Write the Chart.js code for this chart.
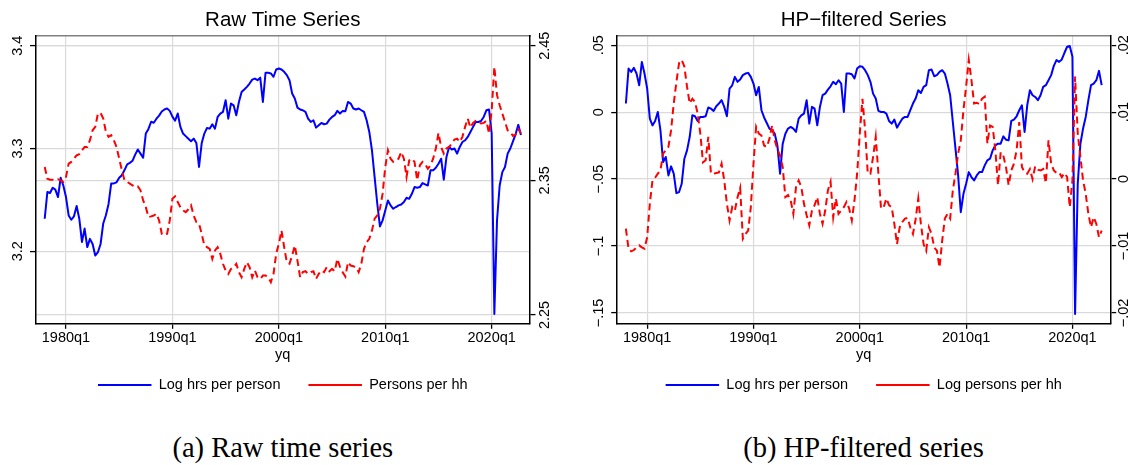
<!DOCTYPE html>
<html><head><meta charset="utf-8">
<script src="https://cdn.jsdelivr.net/npm/chart.js@4.4.1/dist/chart.umd.min.js"></script>
<style>
html,body{margin:0;padding:0;background:#fff;overflow:hidden;width:1133px;height:465px;position:relative;}
#c1{position:absolute;left:0;top:0;}
#c2{position:absolute;left:581px;top:0;}
.cap{position:absolute;top:434px;font-family:'Liberation Serif','Times New Roman',serif;font-size:28.5px;line-height:1;white-space:nowrap;color:#000;transform:translateX(-50%);}
</style></head><body>
<canvas id="c1" width="566" height="410"></canvas>
<canvas id="c2" width="552" height="410"></canvas>
<div class="cap" style="left:282.8px">(a) Raw time series</div>
<div class="cap" style="left:863.5px">(b) HP-filtered series</div>
<script>
// ---- categories: quarters 1978q1 .. 2022q4 (Stata yq code of 1978q1 = 72)
const quarters = [];
for (let y = 1978; y <= 2022; y++) for (let q = 1; q <= 4; q++) quarters.push(y + 'q' + q);
const firstYq = 72;
const xTickValues = [80, 120, 160, 200, 240];
const xTickLabels = ['1980q1', '1990q1', '2000q1', '2010q1', '2020q1'];

// ---- series values
const rawHours = [3.2316,3.2576,3.2566,3.2618,3.2600,3.2527,3.2715,3.2640,3.2527,3.2348,
3.2306,3.2340,3.2440,3.2316,3.2090,3.2220,3.2040,3.2120,3.2070,3.1958,
3.1990,3.2070,3.2270,3.2350,3.2460,3.2660,3.2660,3.2670,3.2715,3.2740,
3.2790,3.2846,3.2860,3.2880,3.2940,3.2990,3.2950,3.2910,3.3145,3.3190,
3.3260,3.3250,3.3290,3.3320,3.3360,3.3380,3.3390,3.3366,3.3310,3.3270,
3.3340,3.3210,3.3145,3.3120,3.3095,3.3070,3.3096,3.3054,3.2820,3.3050,
3.3145,3.3200,3.3193,3.3236,3.3193,3.3307,3.3340,3.3356,3.3470,3.3290,
3.3437,3.3420,3.3324,3.3453,3.3550,3.3574,3.3600,3.3632,3.3670,3.3680,
3.3665,3.3690,3.3453,3.3737,3.3737,3.3730,3.3698,3.3769,3.3779,3.3769,
3.3746,3.3714,3.3665,3.3535,3.3486,3.3398,3.3379,3.3372,3.3356,3.3290,
3.3258,3.3275,3.3203,3.3226,3.3249,3.3236,3.3242,3.3281,3.3307,3.3324,
3.3366,3.3340,3.3366,3.3363,3.3453,3.3437,3.3389,3.3379,3.3389,3.3372,
3.3356,3.3275,3.3161,3.2982,3.2722,3.2462,3.2241,3.2300,3.2397,3.2494,
3.2446,3.2413,3.2430,3.2446,3.2455,3.2478,3.2520,3.2510,3.2559,3.2624,
3.2618,3.2624,3.2663,3.2650,3.2640,3.2787,3.2787,3.2813,3.2852,3.2900,
3.2696,3.2917,3.3015,3.2990,3.3000,3.2950,3.3015,3.3063,3.3080,3.3112,
3.3160,3.3210,3.3258,3.3258,3.3268,3.3307,3.3372,3.3380,3.3145,3.1389,
3.2299,3.2640,3.2770,3.2820,3.2950,3.3000,3.3070,3.3140,3.3230,3.3130];

const rawPersons = [2.3599,2.3512,2.3505,2.3505,2.3500,2.3507,2.3500,2.3488,2.3525,2.3624,
2.3637,2.3661,2.3686,2.3694,2.3723,2.3748,2.3748,2.3798,2.3872,2.3897,
2.3996,2.4001,2.3959,2.3860,2.3823,2.3835,2.3798,2.3748,2.3661,2.3574,
2.3500,2.3488,2.3475,2.3463,2.3450,2.3455,2.3426,2.3351,2.3301,2.3227,
2.3232,2.3239,2.3252,2.3202,2.3103,2.3091,2.3103,2.3202,2.3363,2.3381,
2.3339,2.3301,2.3277,2.3264,2.3285,2.3314,2.3239,2.3190,2.3177,2.3103,
2.3016,2.3004,2.2991,2.2917,2.2979,2.3004,2.2954,2.2880,2.2830,2.2805,
2.2842,2.2855,2.2880,2.2818,2.2780,2.2842,2.2892,2.2855,2.2780,2.2830,
2.2780,2.2768,2.2793,2.2793,2.2780,2.2743,2.2805,2.2954,2.3029,2.3128,
2.3004,2.2892,2.2880,2.2942,2.3016,2.2904,2.2780,2.2818,2.2825,2.2805,
2.2818,2.2825,2.2768,2.2805,2.2830,2.2818,2.2855,2.2825,2.2842,2.2825,
2.2917,2.2855,2.2818,2.2785,2.2892,2.2867,2.2862,2.2855,2.2818,2.2880,
2.2991,2.3041,2.3066,2.3128,2.3215,2.3239,2.3289,2.3401,2.3599,2.3723,
2.3661,2.3637,2.3644,2.3661,2.3711,2.3661,2.3525,2.3649,2.3661,2.3637,
2.3500,2.3612,2.3637,2.3620,2.3587,2.3612,2.3661,2.3736,2.3852,2.3748,
2.3698,2.3736,2.3748,2.3773,2.3803,2.3810,2.3785,2.3823,2.3897,2.3959,
2.3892,2.3927,2.3942,2.3934,2.3922,2.3927,2.3942,2.3847,2.4021,2.4344,
2.4133,2.4058,2.3996,2.3934,2.3872,2.3860,2.3830,2.3840,2.3880,2.3850];

const hpHours = [0.0064,0.0325,0.0300,0.0330,0.0288,0.0200,0.0375,0.0288,0.0176,-0.0049,
-0.0099,-0.0066,0.0001,-0.0136,-0.0373,-0.0335,-0.0473,-0.0405,-0.0460,-0.0605,
-0.0597,-0.0535,-0.0348,-0.0286,-0.0186,-0.0024,-0.0031,-0.0066,-0.0036,-0.0036,
-0.0031,0.0034,0.0026,0.0009,0.0044,0.0064,0.0089,0.0039,-0.0031,0.0176,
0.0200,0.0263,0.0226,0.0243,0.0276,0.0288,0.0293,0.0263,0.0213,0.0126,
0.0188,0.0014,-0.0040,-0.0081,-0.0123,-0.0136,-0.0161,-0.0249,-0.0460,-0.0236,
-0.0161,-0.0123,-0.0111,-0.0123,-0.0148,-0.0049,-0.0024,-0.0011,0.0089,-0.0086,
0.0039,0.0026,-0.0099,0.0039,0.0126,0.0138,0.0168,0.0193,0.0226,0.0208,
0.0238,0.0213,0.0001,0.0288,0.0288,0.0283,0.0251,0.0325,0.0343,0.0338,
0.0313,0.0276,0.0226,0.0138,0.0101,0.0009,0.0001,0.0001,-0.0011,-0.0066,
-0.0086,-0.0056,-0.0116,-0.0081,-0.0049,-0.0036,-0.0036,0.0014,0.0064,0.0101,
0.0163,0.0143,0.0188,0.0201,0.0313,0.0318,0.0268,0.0276,0.0300,0.0313,
0.0288,0.0213,0.0126,-0.0074,-0.0273,-0.0473,-0.0747,-0.0610,-0.0535,-0.0448,
-0.0485,-0.0510,-0.0473,-0.0448,-0.0448,-0.0398,-0.0360,-0.0348,-0.0286,-0.0248,
-0.0236,-0.0236,-0.0181,-0.0206,-0.0211,-0.0066,-0.0056,-0.0031,0.0014,0.0051,
-0.0148,0.0051,0.0163,0.0126,0.0113,0.0089,0.0126,0.0188,0.0201,0.0238,
0.0276,0.0345,0.0388,0.0375,0.0393,0.0443,0.0488,0.0493,0.0413,-0.1507,
-0.0535,-0.0236,-0.0123,-0.0036,0.0089,0.0201,0.0213,0.0238,0.0308,0.0201];

const hpPersons = [-0.0074,-0.0104,-0.0108,-0.0106,-0.0102,-0.0099,-0.0102,-0.0104,-0.0087,-0.0037,
-0.0002,0.0002,0.0008,0.0013,0.0038,0.0043,0.0048,0.0073,0.0113,0.0145,
0.0173,0.0178,0.0168,0.0138,0.0113,0.0120,0.0115,0.0098,0.0068,0.0025,
0.0028,0.0063,0.0008,0.0008,0.0009,0.0010,0.0023,-0.0002,-0.0037,-0.0062,
-0.0042,-0.0047,-0.0027,-0.0013,-0.0089,-0.0082,-0.0077,-0.0042,0.0023,0.0078,
0.0068,0.0065,0.0050,0.0048,0.0060,0.0080,0.0058,0.0045,0.0035,0.0018,
-0.0027,-0.0024,-0.0032,-0.0052,-0.0012,-0.0002,-0.0012,-0.0037,-0.0054,-0.0069,
-0.0047,-0.0039,-0.0027,-0.0052,-0.0067,-0.0047,-0.0017,-0.0004,-0.0057,-0.0029,
-0.0052,-0.0047,-0.0042,-0.0034,-0.0044,-0.0062,-0.0032,0.0008,0.0068,0.0120,
0.0073,0.0008,0.0008,0.0033,0.0063,0.0008,-0.0044,-0.0042,-0.0029,-0.0039,
-0.0042,-0.0067,-0.0097,-0.0072,-0.0064,-0.0059,-0.0058,-0.0072,-0.0082,-0.0060,
-0.0029,-0.0067,-0.0097,-0.0107,-0.0072,-0.0082,-0.0102,-0.0107,-0.0132,-0.0092,
-0.0059,-0.0052,-0.0059,-0.0017,0.0008,0.0038,0.0058,0.0103,0.0138,0.0178,
0.0148,0.0113,0.0114,0.0112,0.0120,0.0123,0.0053,0.0080,0.0078,0.0043,
-0.0009,0.0040,0.0035,0.0018,-0.0009,0.0013,0.0023,0.0043,0.0085,0.0018,
0.0010,0.0008,0.0015,0.0000,0.0019,0.0014,0.0013,0.0015,-0.0006,0.0058,
0.0023,0.0013,0.0009,0.0010,0.0003,0.0009,0.0003,-0.0042,-0.0002,0.0153,
0.0068,0.0033,-0.0002,-0.0022,-0.0052,-0.0072,-0.0057,-0.0067,-0.0087,-0.0077];

// ---- tick labels
const rawLeftTicks = [3.2, 3.3, 3.4];
const rawLeftLabels = ['3.2', '3.3', '3.4'];
const rawRightTicks = [2.25, 2.35, 2.45];
const rawRightLabels = ['2.25', '2.35', '2.45'];
const hpLeftTicks = [-0.15, -0.1, -0.05, 0, 0.05];
const hpLeftLabels = ['\u2212.15', '\u2212.1', '\u2212.05', '0', '.05'];
const hpRightTicks = [-0.02, -0.01, 0, 0.01, 0.02];
const hpRightLabels = ['\u2212.02', '\u2212.01', '0', '.01', '.02'];

// ---- styling / layout
Chart.defaults.font.family = "'Liberation Sans', Arial, sans-serif";
Chart.defaults.color = '#000';
const GRID = '#dadada';
const FS = 14.5;
const X_MIN = 68.54, X_MAX = 254.4;

const toPoints = arr => arr.map((v, i) => ({x: firstYq + i, y: v}));

function yAxis(pos, min, max, ticks, labels, pad, drawGrid, width) {
  return {
    type: 'linear', position: pos, min: min, max: max,
    afterBuildTicks: a => { a.ticks = ticks.map(v => ({value: v})); },
    afterFit: a => { a.width = width; },
    ticks: { autoSkip: false, minRotation: 90, maxRotation: 90, crossAlign: 'center',
      padding: pad, color: '#000', font: {size: FS}, callback: (v, i) => labels[i] },
    grid: { display: true, drawOnChartArea: drawGrid, color: GRID, lineWidth: 1.2,
      drawTicks: true, tickLength: 5.5, tickColor: '#000', tickWidth: 1.3 },
    border: { display: true, color: '#000', width: 1.5 }
  };
}

function makeChart(id, title, hours, persons, labelA, labelB, yL, yR) {
  return new Chart(document.getElementById(id), {
    type: 'line',
    data: {
      datasets: [
        { label: labelA, data: toPoints(hours), yAxisID: 'y', borderColor: '#0000ff',
          backgroundColor: '#0000ff', borderWidth: 2, pointRadius: 0, tension: 0,
          borderJoinStyle: 'round', order: 1 },
        { label: labelB, data: toPoints(persons), yAxisID: 'y2', borderColor: '#ff0000',
          backgroundColor: '#ff0000', borderWidth: 2, pointRadius: 0, tension: 0,
          borderDash: [7, 4.3], order: 0 }
      ]
    },
    options: {
      responsive: false, animation: false, devicePixelRatio: 1,
      layout: { padding: { top: 0, left: 0, right: 0, bottom: 7.75 } },
      scales: {
        x: {
          type: 'linear', position: 'bottom', min: X_MIN, max: X_MAX,
          afterBuildTicks: a => { a.ticks = xTickValues.map(v => ({value: v})); },
          afterFit: a => { a.height = 26.45; },
          ticks: { autoSkip: false, minRotation: 0, maxRotation: 0, padding: 0.5,
            color: '#000', font: {size: FS}, callback: (v, i) => xTickLabels[i] },
          grid: { display: true, color: GRID, lineWidth: 1.2, drawTicks: true,
            tickLength: 5.5, tickColor: '#000', tickWidth: 1.3 },
          border: { display: true, color: '#000', width: 1.5 },
          title: { display: true, text: 'yq', color: '#000', font: {size: FS},
            padding: { top: 0, bottom: -13.95 } }
        },
        xTop: {
          type: 'linear', position: 'top', min: X_MIN, max: X_MAX,
          afterFit: a => { a.height = 0; },
          ticks: { display: false },
          grid: { display: false, drawTicks: false },
          border: { display: true, color: '#808080', width: 1.5 }
        },
        y: yL,
        y2: yR
      },
      plugins: {
        title: { display: true, text: title, fullSize: false, color: '#000',
          font: { size: 20.5, weight: 'normal' }, padding: { top: 8.4, bottom: 2.9 } },
        legend: { display: true, position: 'bottom', fullSize: false,
          labels: { usePointStyle: true, pointStyle: 'line', pointStyleWidth: 53.5,
            color: '#000', font: { size: FS }, padding: 28,
            sort: (a, b) => a.datasetIndex - b.datasetIndex } },
        tooltip: { enabled: false }
      }
    }
  });
}

makeChart('c1', 'Raw Time Series', rawHours, rawPersons, 'Log hrs per person', 'Persons per hh',
  yAxis('left', 3.1298, 3.4096, rawLeftTicks, rawLeftLabels, 2.42, true, 35.5),
  yAxis('right', 2.2438, 2.4573, rawRightTicks, rawRightLabels, -4.9, true, 36));

makeChart('c2', 'HP\u2212filtered Series', hpHours, hpPersons, 'Log hrs per person', 'Log persons per hh',
  yAxis('left', -0.1577, 0.0569, hpLeftTicks, hpLeftLabels, -1.81, true, 35.7),
  yAxis('right', -0.02154, 0.02138, hpRightTicks, hpRightLabels, -6.81, false, 22.3));
</script>
</body></html>
